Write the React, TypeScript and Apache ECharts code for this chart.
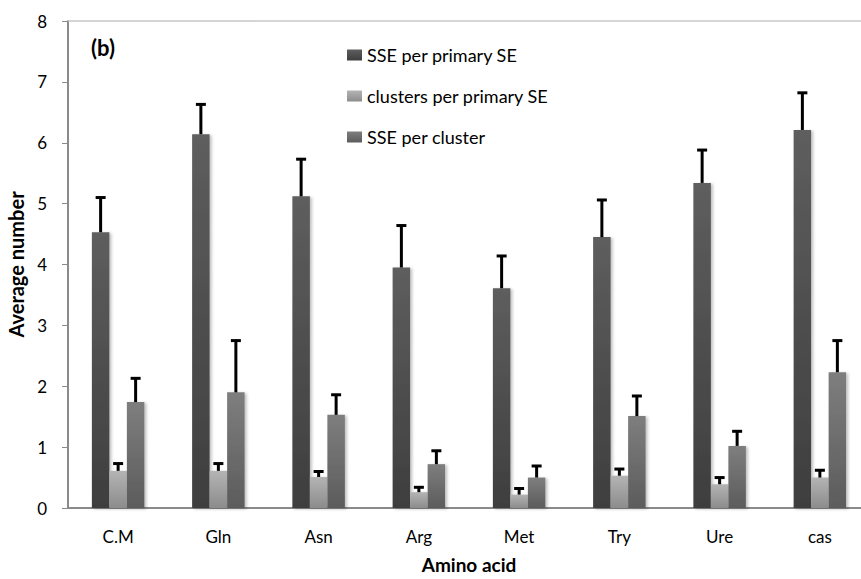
import React, { useEffect, useRef } from "react";
import * as echarts from "echarts";

const categories = ["C.M", "Gln", "Asn", "Arg", "Met", "Try", "Ure", "cas"];
const seriesNames = ["SSE per primary SE", "clusters per primary SE", "SSE per cluster"];
const ssePerPrimary = [4.53, 6.14, 5.12, 3.95, 3.61, 4.45, 5.34, 6.21];
const ssePerPrimaryErr = [0.57, 0.49, 0.61, 0.69, 0.53, 0.61, 0.54, 0.61];
const clustersPerPrimary = [0.61, 0.61, 0.51, 0.26, 0.22, 0.53, 0.39, 0.5];
const clustersPerPrimaryErr = [0.12, 0.12, 0.09, 0.08, 0.1, 0.11, 0.11, 0.12];
const ssePerCluster = [1.74, 1.9, 1.53, 0.72, 0.5, 1.51, 1.02, 2.23];
const ssePerClusterErr = [0.39, 0.85, 0.33, 0.22, 0.19, 0.33, 0.24, 0.52];
const yTicks = [0, 1, 2, 3, 4, 5, 6, 7, 8];

const FONT = "Lato, 'Noto Sans', sans-serif";
const BAR_W = 17.5;

const grad = (top: string, bottom: string) =>
  new echarts.graphic.LinearGradient(0, 0, 0, 1, [
    { offset: 0, color: top },
    { offset: 1, color: bottom },
  ]);

export default function App() {
  const ref = useRef<HTMLDivElement>(null);
  useEffect(() => {
    document.body.style.margin = "0";
    if (!ref.current) return;
    const chart = echarts.init(ref.current, undefined, { renderer: "svg" });

    const values = [ssePerPrimary, clustersPerPrimary, ssePerCluster];
    const errs = [ssePerPrimaryErr, clustersPerPrimaryErr, ssePerClusterErr];
    const colors = [
      grad("#5e5e5e", "#3e3e3e"),
      grad("#b4b4b4", "#8c8c8c"),
      grad("#7e7e7e", "#5c5c5c"),
    ];

    const barSeries = values.map((v, i) => ({
      name: seriesNames[i],
      type: "bar",
      data: v,
      barWidth: BAR_W,
      barGap: "0%",
      itemStyle: {
        color: colors[i],
        shadowColor: "rgba(0,0,0,0.25)",
        shadowBlur: 3,
        shadowOffsetX: 2,
        shadowOffsetY: 1,
      },
      z: 2,
    }));

    const errorSeries = values.map((v, i) => ({
      type: "custom",
      name: "err" + i,
      z: 5,
      data: v.map((val, j) => [j, val, val + errs[i][j]]),
      renderItem: (params: any, api: any) => {
        const idx = api.value(0);
        const base = api.coord([idx, api.value(1)]);
        const top = api.coord([idx, api.value(2)]);
        const x = base[0] + (i - 1) * BAR_W;
        const cap = 5;
        return {
          type: "group",
          children: [
            {
              type: "line",
              shape: { x1: x, y1: base[1], x2: x, y2: top[1] },
              style: { stroke: "#000", lineWidth: 3 },
            },
            {
              type: "line",
              shape: { x1: x - cap, y1: top[1], x2: x + cap, y2: top[1] },
              style: { stroke: "#000", lineWidth: 3 },
            },
          ],
        };
      },
    }));

    chart.setOption({
      animation: false,
      backgroundColor: "#ffffff",
      title: {
        text: "(b)",
        left: 86,
        top: 31,
        padding: 5,
        textStyle: { fontFamily: FONT, fontSize: 22, fontWeight: "bold", color: "#000" },
      },
      legend: {
        data: seriesNames,
        orient: "vertical",
        left: 342,
        top: 41,
        itemWidth: 15,
        itemHeight: 11,
        itemGap: 23,
        icon: "rect",
        textStyle: { fontFamily: FONT, fontSize: 18, color: "#000", lineHeight: 18 },
      },
      grid: { left: 68, top: 21, width: 802, height: 487, outerBoundsMode: "none", containLabel: false },
      xAxis: [
        {
          type: "category",
          data: categories,
          name: "Amino acid",
          nameLocation: "middle",
          nameGap: 47,
          nameTextStyle: { fontFamily: FONT, fontSize: 19, fontWeight: "bold", color: "#000" },
          axisLine: { lineStyle: { color: "#8a8a8a", width: 2 } },
          axisTick: { show: false },
          axisLabel: { fontFamily: FONT, fontSize: 17, color: "#000", margin: 20 },
        },
        {
          type: "category",
          data: categories,
          position: "top",
          axisLine: { lineStyle: { color: "#c8c8c8", width: 1.5 } },
          axisTick: { show: false },
          axisLabel: { show: false },
        },
      ],
      yAxis: {
        type: "value",
        min: yTicks[0],
        max: yTicks[yTicks.length - 1],
        interval: 1,
        name: "Average number",
        nameLocation: "middle",
        nameGap: 38,
        nameTextStyle: { fontFamily: FONT, fontSize: 20, fontWeight: "bold", color: "#000" },
        axisLine: { show: true, lineStyle: { color: "#8a8a8a", width: 2 } },
        axisTick: { show: true, length: 6, lineStyle: { color: "#8a8a8a", width: 1 } },
        axisLabel: { fontFamily: FONT, fontSize: 17, color: "#000", margin: 21 },
        splitLine: { show: false },
      },
      series: [...barSeries, ...errorSeries],
    });
    return () => chart.dispose();
  }, []);
  return <div ref={ref} style={{ width: 861, height: 579 }} />;
}
